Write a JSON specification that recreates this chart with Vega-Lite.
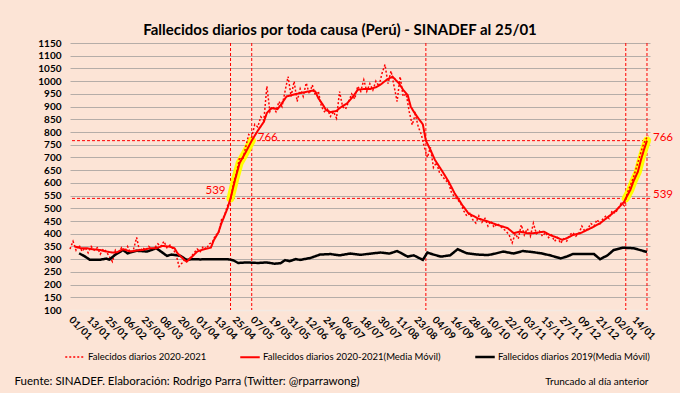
{
  "$schema": "https://vega.github.io/schema/vega-lite/v6.json",
  "width": 580,
  "height": 267,
  "autosize": {"type": "none"},
  "padding": {"left": 70, "top": 43, "right": 30, "bottom": 83},
  "background": "#FCE4D6",
  "config": {"view": {"stroke": null}, "font": "Lato"},
  "title": {"text": "Fallecidos diarios por toda causa (Perú) - SINADEF al 25/01", "font": "Lato", "fontSize": 15, "fontWeight": "bold", "color": "#000000", "anchor": "middle", "dx": -20, "offset": 0},
  "datasets": {
    "diario": [
      {"i":0,"v":340},{"i":2,"v":370},{"i":4,"v":335},{"i":6,"v":355},{"i":8,"v":330},{"i":10,"v":345},{"i":12,"v":325},{"i":14,"v":350},{"i":16,"v":335},{"i":18,"v":345},
      {"i":20,"v":320},{"i":22,"v":340},{"i":24,"v":330},{"i":26,"v":310},{"i":28,"v":290},{"i":30,"v":335},{"i":32,"v":320},{"i":34,"v":345},{"i":36,"v":330},{"i":38,"v":350},
      {"i":40,"v":325},{"i":42,"v":340},{"i":44,"v":385},{"i":46,"v":330},{"i":48,"v":345},{"i":50,"v":335},{"i":52,"v":350},{"i":54,"v":340},{"i":56,"v":345},{"i":58,"v":360},
      {"i":60,"v":350},{"i":62,"v":370},{"i":64,"v":345},{"i":66,"v":355},{"i":68,"v":340},{"i":70,"v":320},{"i":72,"v":271},{"i":74,"v":285},{"i":76,"v":300},{"i":78,"v":295},
      {"i":80,"v":310},{"i":82,"v":325},{"i":84,"v":340},{"i":86,"v":330},{"i":88,"v":350},{"i":90,"v":340},{"i":92,"v":360},{"i":94,"v":365},{"i":96,"v":395},{"i":98,"v":400},
      {"i":100,"v":455},{"i":102,"v":470},{"i":104,"v":510},{"i":106,"v":530},{"i":108,"v":600},{"i":110,"v":640},{"i":112,"v":700},{"i":114,"v":690},{"i":116,"v":740},{"i":118,"v":790},
      {"i":120,"v":780},{"i":122,"v":830},{"i":124,"v":820},{"i":126,"v":860},{"i":128,"v":845},{"i":130,"v":980},{"i":132,"v":880},{"i":134,"v":900},{"i":136,"v":880},{"i":138,"v":920},
      {"i":140,"v":900},{"i":142,"v":960},{"i":144,"v":1018},{"i":146,"v":940},{"i":148,"v":999},{"i":150,"v":920},{"i":152,"v":970},{"i":154,"v":940},{"i":156,"v":993},{"i":158,"v":950},
      {"i":160,"v":985},{"i":162,"v":945},{"i":164,"v":960},{"i":166,"v":900},{"i":168,"v":880},{"i":170,"v":890},{"i":172,"v":861},{"i":174,"v":880},{"i":176,"v":854},{"i":178,"v":959},
      {"i":180,"v":900},{"i":182,"v":890},{"i":184,"v":920},{"i":186,"v":950},{"i":188,"v":930},{"i":190,"v":980},{"i":192,"v":960},{"i":194,"v":1005},{"i":196,"v":960},{"i":198,"v":990},
      {"i":200,"v":965},{"i":202,"v":1000},{"i":204,"v":980},{"i":206,"v":1030},{"i":208,"v":1065},{"i":210,"v":990},{"i":212,"v":1040},{"i":214,"v":980},{"i":216,"v":920},{"i":218,"v":1018},
      {"i":220,"v":940},{"i":222,"v":950},{"i":224,"v":880},{"i":226,"v":828},{"i":228,"v":870},{"i":230,"v":820},{"i":232,"v":790},{"i":234,"v":740},{"i":236,"v":700},{"i":238,"v":740},
      {"i":240,"v":660},{"i":242,"v":680},{"i":244,"v":640},{"i":246,"v":625},{"i":248,"v":610},{"i":250,"v":600},{"i":252,"v":560},{"i":254,"v":545},{"i":256,"v":533},{"i":258,"v":520},
      {"i":260,"v":490},{"i":262,"v":470},{"i":264,"v":480},{"i":266,"v":455},{"i":268,"v":442},{"i":270,"v":470},{"i":272,"v":445},{"i":274,"v":460},{"i":276,"v":430},{"i":278,"v":450},
      {"i":280,"v":425},{"i":282,"v":440},{"i":284,"v":430},{"i":286,"v":420},{"i":288,"v":410},{"i":290,"v":395},{"i":292,"v":364},{"i":294,"v":400},{"i":296,"v":380},{"i":298,"v":435},
      {"i":300,"v":395},{"i":302,"v":420},{"i":304,"v":390},{"i":306,"v":441},{"i":308,"v":400},{"i":310,"v":410},{"i":312,"v":390},{"i":314,"v":405},{"i":316,"v":385},{"i":318,"v":395},
      {"i":320,"v":370},{"i":322,"v":385},{"i":324,"v":362},{"i":326,"v":380},{"i":328,"v":371},{"i":330,"v":395},{"i":332,"v":405},{"i":334,"v":390},{"i":336,"v":400},{"i":338,"v":430},
      {"i":340,"v":410},{"i":342,"v":420},{"i":344,"v":440},{"i":346,"v":430},{"i":348,"v":455},{"i":350,"v":440},{"i":352,"v":460},{"i":354,"v":470},{"i":356,"v":460},{"i":358,"v":490},
      {"i":360,"v":480},{"i":362,"v":500},{"i":364,"v":520},{"i":366,"v":510},{"i":368,"v":560},{"i":370,"v":590},{"i":372,"v":620},{"i":374,"v":660},{"i":376,"v":700},{"i":378,"v":740},
      {"i":380,"v":770},{"i":382,"v":785}
    ],
    "media": [
      {"i":3,"v":350},{"i":7,"v":343},{"i":11,"v":343},{"i":15,"v":339},{"i":20,"v":336},{"i":24,"v":330},{"i":28,"v":326},{"i":31,"v":327},{"i":35,"v":339},{"i":40,"v":330},
      {"i":44,"v":334},{"i":48,"v":336},{"i":53,"v":343},{"i":57,"v":343},{"i":61,"v":352},{"i":66,"v":349},{"i":69,"v":343},{"i":71,"v":323},{"i":75,"v":300},{"i":77,"v":290},
      {"i":81,"v":312},{"i":84,"v":330},{"i":88,"v":338},{"i":93,"v":345},{"i":95,"v":375},{"i":98,"v":405},{"i":100,"v":441},{"i":104,"v":500},{"i":106,"v":539},{"i":109,"v":612},
      {"i":112,"v":678},{"i":116,"v":720},{"i":120,"v":766},{"i":124,"v":805},{"i":128,"v":840},{"i":130,"v":875},{"i":133,"v":894},{"i":137,"v":890},{"i":139,"v":905},{"i":143,"v":940},
      {"i":147,"v":946},{"i":152,"v":953},{"i":157,"v":959},{"i":160,"v":963},{"i":162,"v":959},{"i":164,"v":933},{"i":167,"v":907},{"i":169,"v":887},{"i":172,"v":878},{"i":176,"v":883},
      {"i":178,"v":894},{"i":183,"v":913},{"i":187,"v":940},{"i":190,"v":966},{"i":194,"v":969},{"i":198,"v":969},{"i":202,"v":976},{"i":205,"v":986},{"i":209,"v":1005},{"i":213,"v":1018},
      {"i":215,"v":1005},{"i":217,"v":993},{"i":220,"v":966},{"i":223,"v":945},{"i":225,"v":900},{"i":227,"v":880},{"i":230,"v":854},{"i":233,"v":830},{"i":235,"v":766},{"i":238,"v":730},
      {"i":241,"v":690},{"i":246,"v":644},{"i":250,"v":605},{"i":254,"v":559},{"i":259,"v":513},{"i":263,"v":481},{"i":269,"v":461},{"i":276,"v":448},{"i":282,"v":435},{"i":289,"v":422},
      {"i":293,"v":402},{"i":297,"v":408},{"i":302,"v":402},{"i":306,"v":402},{"i":313,"v":408},{"i":317,"v":395},{"i":321,"v":386},{"i":325,"v":376},{"i":328,"v":382},{"i":332,"v":395},
      {"i":337,"v":402},{"i":344,"v":422},{"i":350,"v":441},{"i":357,"v":474},{"i":361,"v":494},{"i":366,"v":526},{"i":367,"v":539},{"i":370,"v":572},{"i":372,"v":605},{"i":375,"v":644},
      {"i":377,"v":690},{"i":379,"v":730},{"i":381,"v":766}
    ],
    "media2019": [
      {"i":6,"v":323},{"i":10,"v":310},{"i":13,"v":298},{"i":20,"v":298},{"i":24,"v":302},{"i":26,"v":298},{"i":30,"v":318},{"i":35,"v":336},{"i":38,"v":323},{"i":44,"v":333},
      {"i":51,"v":330},{"i":57,"v":343},{"i":64,"v":313},{"i":67,"v":318},{"i":73,"v":313},{"i":77,"v":297},{"i":81,"v":300},{"i":86,"v":299},{"i":95,"v":300},{"i":104,"v":300},
      {"i":108,"v":295},{"i":111,"v":285},{"i":117,"v":287},{"i":124,"v":285},{"i":130,"v":287},{"i":135,"v":282},{"i":139,"v":284},{"i":142,"v":296},{"i":145,"v":292},{"i":149,"v":300},
      {"i":152,"v":297},{"i":159,"v":305},{"i":165,"v":318},{"i":172,"v":320},{"i":178,"v":315},{"i":185,"v":322},{"i":192,"v":317},{"i":196,"v":320},{"i":205,"v":326},{"i":211,"v":322},
      {"i":216,"v":332},{"i":223,"v":310},{"i":227,"v":315},{"i":233,"v":297},{"i":236,"v":326},{"i":240,"v":318},{"i":245,"v":310},{"i":251,"v":315},{"i":256,"v":339},{"i":262,"v":323},
      {"i":269,"v":318},{"i":276,"v":316},{"i":281,"v":322},{"i":286,"v":330},{"i":293,"v":322},{"i":299,"v":332},{"i":305,"v":328},{"i":311,"v":323},{"i":317,"v":315},{"i":324,"v":303},
      {"i":328,"v":310},{"i":332,"v":320},{"i":339,"v":320},{"i":346,"v":320},{"i":350,"v":300},{"i":355,"v":315},{"i":359,"v":336},{"i":365,"v":345},{"i":372,"v":343},{"i":377,"v":335},
      {"i":381,"v":328}
    ],
    "horizontales": [{"v":539},{"v":766}],
    "verticales": [{"i":106},{"i":120},{"i":235},{"i":367},{"i":381}],
    "etiquetas": [
      {"i":106,"v":539,"t":"539"},
      {"i":120,"v":766,"t":"766"},
      {"i":381,"v":766,"t":"766"},
      {"i":381,"v":539,"t":"539"}
    ]
  },
  "resolve": {"axis": {"x": "independent", "y": "independent"}},
  "layer": [
    {
      "data": {"name": "horizontales"},
      "mark": {"type": "rule", "color": "#FF0000", "strokeWidth": 1, "strokeDash": [3, 2]},
      "encoding": {"y": {"field": "v", "type": "quantitative", "axis": null}}
    },
    {
      "data": {"name": "verticales"},
      "mark": {"type": "rule", "color": "#FF0000", "strokeWidth": 1, "strokeDash": [3, 2]},
      "encoding": {
        "x": {"field": "i", "type": "quantitative",
          "axis": {"orient": "bottom", "labels": false, "ticks": false, "domain": false, "grid": false,
            "title": "Truncado al día anterior", "titleX": 578, "titleY": 71, "titleAlign": "right", "titleAnchor": null, "titleBaseline": "middle",
            "titleFont": "Lato", "titleFontSize": 10, "titleFontWeight": "normal", "titleColor": "#000000"}}
      }
    },
    {
      "data": {"name": "media"},
      "transform": [{"filter": "datum.i >= 106 && datum.i <= 120"}],
      "mark": {"type": "line", "color": "#FFFF00", "strokeWidth": 8, "strokeCap": "round"},
      "encoding": {"x": {"field": "i", "type": "quantitative", "axis": null}, "y": {"field": "v", "type": "quantitative", "axis": null}}
    },
    {
      "data": {"name": "media"},
      "transform": [{"filter": "datum.i >= 367 && datum.i <= 381"}],
      "mark": {"type": "line", "color": "#FFFF00", "strokeWidth": 8, "strokeCap": "round"},
      "encoding": {"x": {"field": "i", "type": "quantitative", "axis": null}, "y": {"field": "v", "type": "quantitative", "axis": null}}
    },
    {
      "data": {"name": "diario"},
      "mark": {"type": "line"},
      "encoding": {
        "x": {"field": "i", "type": "quantitative",
          "scale": {"domain": [0, 383], "nice": false, "zero": false},
          "axis": {
            "orient": "bottom",
            "values": [0,12,24,36,48,60,72,84,96,108,120,132,144,156,168,180,192,204,216,228,240,252,264,276,288,300,312,324,336,348,360,372],
            "labelExpr": "['01/01','13/01','25/01','06/02','25/02','08/03','20/03','01/04','13/04','25/04','07/05','19/05','31/05','12/06','24/06','06/07','18/07','30/07','11/08','23/08','04/09','16/09','28/09','10/10','22/10','03/11','15/11','27/11','09/12','21/12','02/01','14/01'][round(datum.value/12)]",
            "labelAngle": 45, "labelAlign": "left", "labelBaseline": "middle", "labelPadding": 8,
            "labelFont": "Lato", "labelFontSize": 10, "labelFontWeight": "bold", "labelColor": "#000000",
            "labelOverlap": false, "labelFlush": false, "labelBound": false,
            "ticks": false, "grid": false, "domainColor": "#F3E9E3", "domainWidth": 1.5,
            "title": "Fuente: SINADEF. Elaboración: Rodrigo Parra (Twitter: @rparrawong)",
            "titleX": -56, "titleY": 71, "titleAlign": "left", "titleAnchor": null, "titleBaseline": "middle",
            "titleFont": "Lato", "titleFontSize": 11.5, "titleFontWeight": "normal", "titleColor": "#000000"
          }},
        "y": {"field": "v", "type": "quantitative",
          "scale": {"domain": [100, 1150], "nice": false, "zero": false},
          "axis": {
            "orient": "left",
            "values": [100,150,200,250,300,350,400,450,500,550,600,650,700,750,800,850,900,950,1000,1050,1100,1150],
            "format": "d",
            "labelFont": "Lato", "labelFontSize": 10, "labelFontWeight": "bold", "labelColor": "#000000", "labelPadding": 9,
            "ticks": false, "domain": false, "grid": true,
            "gridColor": {"condition": {"test": "datum.value === 100", "value": "#F3E9E3"}, "value": "#B5ADA8"},
            "gridWidth": 1.2, "title": null
          }},
        "color": {"datum": "Falecidos diarios 2020-2021", "type": "nominal",
          "scale": {"domain": ["Falecidos diarios 2020-2021", "Fallecidos diarios 2020-2021(Media Móvil)", "Fallecidos diarios 2019(Media Móvil)"], "range": ["#FF0000", "#FF0000", "#000000"]},
          "legend": {"title": null, "orient": "none", "legendX": -6, "legendY": 303, "direction": "horizontal", "columns": 3, "columnPadding": 29,
            "symbolType": "stroke", "symbolSize": 380, "labelFont": "Lato", "labelFontSize": 9.5, "labelColor": "#000000", "labelOffset": 2, "labelLimit": 400}},
        "strokeDash": {"datum": "Falecidos diarios 2020-2021", "type": "nominal",
          "scale": {"domain": ["Falecidos diarios 2020-2021", "Fallecidos diarios 2020-2021(Media Móvil)", "Fallecidos diarios 2019(Media Móvil)"], "range": [[2, 2], [1, 0], [1, 0]]},
          "legend": {"title": null, "orient": "none", "legendX": -6, "legendY": 303, "direction": "horizontal", "columns": 3, "columnPadding": 29,
            "symbolType": "stroke", "symbolSize": 380, "labelFont": "Lato", "labelFontSize": 9.5, "labelColor": "#000000", "labelOffset": 2, "labelLimit": 400}},
        "strokeWidth": {"datum": "Falecidos diarios 2020-2021", "type": "nominal",
          "scale": {"domain": ["Falecidos diarios 2020-2021", "Fallecidos diarios 2020-2021(Media Móvil)", "Fallecidos diarios 2019(Media Móvil)"], "range": [1.5, 2.5, 2.5]},
          "legend": {"title": null, "orient": "none", "legendX": -6, "legendY": 303, "direction": "horizontal", "columns": 3, "columnPadding": 29,
            "symbolType": "stroke", "symbolSize": 380, "labelFont": "Lato", "labelFontSize": 9.5, "labelColor": "#000000", "labelOffset": 2, "labelLimit": 400}}
      }
    },
    {
      "data": {"name": "media2019"},
      "mark": {"type": "line"},
      "encoding": {
        "x": {"field": "i", "type": "quantitative", "axis": null},
        "y": {"field": "v", "type": "quantitative", "axis": null},
        "color": {"datum": "Fallecidos diarios 2019(Media Móvil)", "type": "nominal"},
        "strokeDash": {"datum": "Fallecidos diarios 2019(Media Móvil)", "type": "nominal"},
        "strokeWidth": {"datum": "Fallecidos diarios 2019(Media Móvil)", "type": "nominal"}
      }
    },
    {
      "data": {"name": "media"},
      "mark": {"type": "line"},
      "encoding": {
        "x": {"field": "i", "type": "quantitative", "axis": null},
        "y": {"field": "v", "type": "quantitative", "axis": null},
        "color": {"datum": "Fallecidos diarios 2020-2021(Media Móvil)", "type": "nominal"},
        "strokeDash": {"datum": "Fallecidos diarios 2020-2021(Media Móvil)", "type": "nominal"},
        "strokeWidth": {"datum": "Fallecidos diarios 2020-2021(Media Móvil)", "type": "nominal"}
      }
    },
    {
      "data": {"name": "etiquetas"},
      "transform": [{"filter": "datum.i == 106"}],
      "mark": {"type": "text", "color": "#FF0000", "font": "Lato", "fontSize": 11.5, "align": "right", "baseline": "alphabetic", "dx": -5, "dy": -4},
      "encoding": {
        "x": {"field": "i", "type": "quantitative", "axis": null},
        "y": {"field": "v", "type": "quantitative", "axis": null},
        "text": {"field": "t"}
      }
    },
    {
      "data": {"name": "etiquetas"},
      "transform": [{"filter": "datum.i != 106"}],
      "mark": {"type": "text", "color": "#FF0000", "font": "Lato", "fontSize": 11.5, "align": "left", "baseline": "alphabetic", "dx": 6, "dy": 0},
      "encoding": {
        "x": {"field": "i", "type": "quantitative", "axis": null},
        "y": {"field": "v", "type": "quantitative", "axis": null},
        "text": {"field": "t"}
      }
    }
  ]
}
